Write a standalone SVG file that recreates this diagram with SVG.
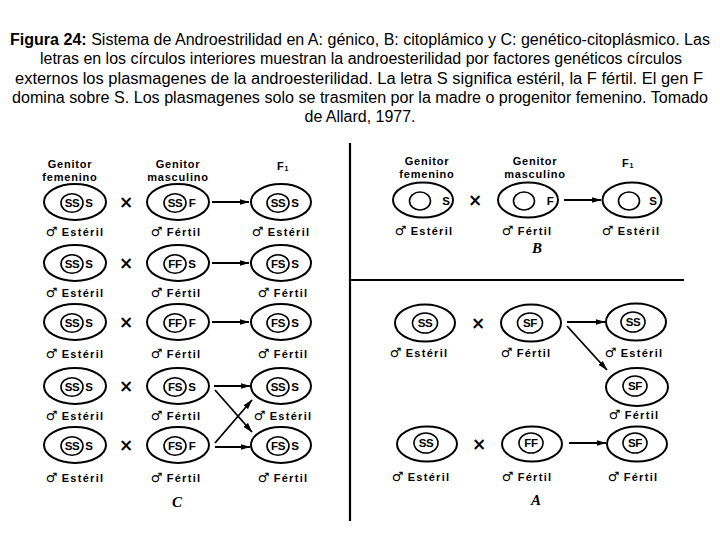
<svg xmlns="http://www.w3.org/2000/svg" width="720" height="540" viewBox="0 0 720 540">
<defs>
<style>
.cap{font-family:"Liberation Sans",Arial,sans-serif;font-size:16px;fill:#000;text-anchor:middle}
.hd{font-family:"Liberation Sans",Arial,sans-serif;font-weight:bold;font-size:11px;letter-spacing:0.8px;text-anchor:middle;fill:#000}
.lb{font-family:"Liberation Sans",Arial,sans-serif;font-weight:bold;font-size:11px;letter-spacing:1.3px;text-anchor:middle;fill:#000}
.sym{font-family:"DejaVu Sans",sans-serif;font-size:13px;font-weight:bold;letter-spacing:0}
.g{font-family:"Liberation Sans",Arial,sans-serif;font-weight:bold;font-size:11.5px;letter-spacing:-0.3px;text-anchor:middle;fill:#000}
.x{font-family:"DejaVu Sans",sans-serif;font-weight:bold;font-size:17px;text-anchor:middle;fill:#000}
.pl{font-family:"Liberation Serif","Times New Roman",serif;font-weight:bold;font-style:italic;font-size:15px;text-anchor:middle;fill:#000}
.o{fill:none;stroke:#000;stroke-width:2}
.i{fill:none;stroke:#000;stroke-width:1.6}
.conn line{stroke:#000;stroke-width:1.8;marker-end:url(#ah)}
.div{stroke:#000;stroke-width:2.2}
</style>
<marker id="ah" markerWidth="10" markerHeight="6" refX="9.5" refY="3" orient="auto" markerUnits="userSpaceOnUse">
<path d="M0,0 L10,3 L0,6 z" fill="#000"/>
</marker>
</defs>
<rect width="720" height="540" fill="#fff"/>

<g id="caption">
<text class="cap" x="360" y="45" textLength="700" lengthAdjust="spacingAndGlyphs"><tspan font-weight="bold">Figura 24:</tspan> Sistema de Androestrilidad en A: génico, B: citoplámico y C: genético-citoplásmico. Las</text>
<text class="cap" x="361" y="64" textLength="642" lengthAdjust="spacingAndGlyphs">letras en los círculos interiores muestran la androesterilidad por factores genéticos círculos</text>
<text class="cap" x="359" y="83.5" textLength="688" lengthAdjust="spacingAndGlyphs">externos los plasmagenes de la androesterilidad. La letra S significa estéril, la F fértil. El gen F</text>
<text class="cap" x="360" y="103" textLength="696" lengthAdjust="spacingAndGlyphs">domina sobre S. Los plasmagenes solo se trasmiten por la madre o progenitor femenino. Tomado</text>
<text class="cap" x="360" y="122" textLength="111" lengthAdjust="spacingAndGlyphs">de Allard, 1977.</text>
</g>

<g id="dividers">
<line class="div" x1="350" y1="143" x2="350" y2="521"/>
<line class="div" x1="350" y1="280" x2="684" y2="280"/>
</g>

<!-- Panel C headers -->
<g id="c-headers">
<text class="hd" x="70" y="168">Genitor</text>
<text class="hd" x="70" y="181">femenino</text>
<text class="hd" x="178" y="168">Genitor</text>
<text class="hd" x="178" y="181">masculino</text>
<text class="hd" x="283" y="170">F<tspan font-size="7" dy="1">1</tspan></text>
</g>

<!-- Panel C row 1 -->
<g id="c1-fem"><ellipse class="o" cx="75" cy="202" rx="31" ry="18"/><ellipse class="i" cx="72" cy="203" rx="11" ry="9.3"/><text class="g" x="72" y="207">SS</text><text class="g" x="89" y="207">S</text><text class="lb" x="75" y="236"><tspan class="sym">♂</tspan> Estéril</text></g>
<g id="c1-mas"><ellipse class="o" cx="178" cy="202" rx="31" ry="18"/><ellipse class="i" cx="175" cy="203" rx="11" ry="9.3"/><text class="g" x="175" y="207">SS</text><text class="g" x="192" y="207">F</text><text class="lb" x="176" y="236"><tspan class="sym">♂</tspan> Fértil</text></g>
<g id="c1-f1"><ellipse class="o" cx="281" cy="202" rx="30" ry="18"/><ellipse class="i" cx="278" cy="203" rx="11" ry="9.3"/><text class="g" x="278" y="207">SS</text><text class="g" x="295" y="207">S</text><text class="lb" x="281" y="236"><tspan class="sym">♂</tspan> Estéril</text></g>

<!-- Panel C row 2 -->
<g id="c2-fem"><ellipse class="o" cx="75" cy="263" rx="31" ry="18"/><ellipse class="i" cx="72" cy="264" rx="11" ry="9.3"/><text class="g" x="72" y="268">SS</text><text class="g" x="89" y="268">S</text><text class="lb" x="75" y="297"><tspan class="sym">♂</tspan> Estéril</text></g>
<g id="c2-mas"><ellipse class="o" cx="178" cy="263" rx="31" ry="18"/><ellipse class="i" cx="175" cy="264" rx="11" ry="9.3"/><text class="g" x="175" y="268">FF</text><text class="g" x="192" y="268">S</text><text class="lb" x="176" y="297"><tspan class="sym">♂</tspan> Fértil</text></g>
<g id="c2-f1"><ellipse class="o" cx="281" cy="263" rx="30" ry="18"/><ellipse class="i" cx="278" cy="264" rx="11" ry="9.3"/><text class="g" x="278" y="268">FS</text><text class="g" x="295" y="268">S</text><text class="lb" x="283" y="297"><tspan class="sym">♂</tspan> Fértil</text></g>

<!-- Panel C row 3 -->
<g id="c3-fem"><ellipse class="o" cx="75" cy="322" rx="31" ry="18"/><ellipse class="i" cx="72" cy="323" rx="11" ry="9.3"/><text class="g" x="72" y="327">SS</text><text class="g" x="89" y="327">S</text><text class="lb" x="75" y="358"><tspan class="sym">♂</tspan> Estéril</text></g>
<g id="c3-mas"><ellipse class="o" cx="178" cy="322" rx="31" ry="18"/><ellipse class="i" cx="175" cy="323" rx="11" ry="9.3"/><text class="g" x="175" y="327">FF</text><text class="g" x="192" y="327">F</text><text class="lb" x="176" y="358"><tspan class="sym">♂</tspan> Fértil</text></g>
<g id="c3-f1"><ellipse class="o" cx="281" cy="322" rx="30" ry="18"/><ellipse class="i" cx="278" cy="323" rx="11" ry="9.3"/><text class="g" x="278" y="327">FS</text><text class="g" x="295" y="327">S</text><text class="lb" x="283" y="358"><tspan class="sym">♂</tspan> Fértil</text></g>

<!-- Panel C row 4 -->
<g id="c4-fem"><ellipse class="o" cx="75" cy="386" rx="31" ry="18"/><ellipse class="i" cx="72" cy="387" rx="11" ry="9.3"/><text class="g" x="72" y="391">SS</text><text class="g" x="89" y="391">S</text><text class="lb" x="75" y="420"><tspan class="sym">♂</tspan> Estéril</text></g>
<g id="c4-mas"><ellipse class="o" cx="178" cy="386" rx="31" ry="18"/><ellipse class="i" cx="175" cy="387" rx="11" ry="9.3"/><text class="g" x="175" y="391">FS</text><text class="g" x="192" y="391">S</text><text class="lb" x="176" y="420"><tspan class="sym">♂</tspan> Fértil</text></g>
<g id="c4-f1"><ellipse class="o" cx="281" cy="386" rx="30" ry="18"/><ellipse class="i" cx="278" cy="387" rx="11" ry="9.3"/><text class="g" x="278" y="391">SS</text><text class="g" x="295" y="391">S</text><text class="lb" x="283" y="420"><tspan class="sym">♂</tspan> Estéril</text></g>

<!-- Panel C row 5 -->
<g id="c5-fem"><ellipse class="o" cx="75" cy="445" rx="31" ry="18"/><ellipse class="i" cx="72" cy="446" rx="11" ry="9.3"/><text class="g" x="72" y="450">SS</text><text class="g" x="89" y="450">S</text><text class="lb" x="75" y="482"><tspan class="sym">♂</tspan> Estéril</text></g>
<g id="c5-mas"><ellipse class="o" cx="178" cy="445" rx="31" ry="18"/><ellipse class="i" cx="175" cy="446" rx="11" ry="9.3"/><text class="g" x="175" y="450">FS</text><text class="g" x="192" y="450">F</text><text class="lb" x="176" y="482"><tspan class="sym">♂</tspan> Fértil</text></g>
<g id="c5-f1"><ellipse class="o" cx="281" cy="445" rx="30" ry="18"/><ellipse class="i" cx="278" cy="446" rx="11" ry="9.3"/><text class="g" x="278" y="450">FS</text><text class="g" x="295" y="450">S</text><text class="lb" x="283" y="482"><tspan class="sym">♂</tspan> Fértil</text></g>

<g id="c-crosses">
<text class="x" x="126" y="208">×</text>
<text class="x" x="126" y="269">×</text>
<text class="x" x="126" y="328">×</text>
<text class="x" x="126" y="392">×</text>
<text class="x" x="126" y="451">×</text>
</g>
<text class="pl" x="177" y="507">C</text>

<!-- Panel B -->
<g id="b-headers">
<text class="hd" x="427" y="165">Genitor</text>
<text class="hd" x="427" y="178">femenino</text>
<text class="hd" x="535" y="165">Genitor</text>
<text class="hd" x="535" y="178">masculino</text>
<text class="hd" x="628" y="167">F<tspan font-size="7" dy="1">1</tspan></text>
</g>
<g id="b-fem"><ellipse class="o" cx="423" cy="200" rx="30" ry="17.5"/><ellipse class="i" cx="420" cy="201" rx="10.5" ry="9"/><text class="g" x="446" y="205">S</text><text class="lb" x="424" y="235"><tspan class="sym">♂</tspan> Estéril</text></g>
<g id="b-mas"><ellipse class="o" cx="528" cy="200" rx="30" ry="17.5"/><ellipse class="i" cx="524" cy="201" rx="10.5" ry="9"/><text class="g" x="550" y="205">F</text><text class="lb" x="527" y="235"><tspan class="sym">♂</tspan> Fértil</text></g>
<g id="b-f1"><ellipse class="o" cx="632" cy="200" rx="29.5" ry="17.5"/><ellipse class="i" cx="629" cy="201" rx="10.5" ry="9"/><text class="g" x="653" y="205">S</text><text class="lb" x="631" y="235"><tspan class="sym">♂</tspan> Estéril</text></g>
<text class="x" x="475" y="206">×</text>
<text class="pl" x="537" y="253">B</text>

<!-- Panel A -->
<g id="a1-fem"><ellipse class="o" cx="425" cy="323" rx="30" ry="18.5"/><ellipse class="i" cx="425" cy="323" rx="12.5" ry="10"/><text class="g" x="425" y="327">SS</text><text class="lb" x="419" y="357"><tspan class="sym">♂</tspan>  Estéril</text></g>
<g id="a1-mas"><ellipse class="o" cx="531" cy="323" rx="30" ry="18.5"/><ellipse class="i" cx="530" cy="323" rx="12.5" ry="10"/><text class="g" x="530" y="327">SF</text><text class="lb" x="526" y="357"><tspan class="sym">♂</tspan>  Fértil</text></g>
<g id="a1-f1"><ellipse class="o" cx="636" cy="322" rx="30" ry="18.5"/><ellipse class="i" cx="633" cy="322" rx="12" ry="10"/><text class="g" x="633" y="326">SS</text><text class="lb" x="634" y="357"><tspan class="sym">♂</tspan>  Estéril</text></g>
<g id="a2-f1"><ellipse class="o" cx="637" cy="387" rx="31" ry="19"/><ellipse class="i" cx="635" cy="386" rx="12" ry="10"/><text class="g" x="635" y="390">SF</text><text class="lb" x="634" y="419"><tspan class="sym">♂</tspan>  Fértil</text></g>
<g id="a3-fem"><ellipse class="o" cx="427" cy="444" rx="30" ry="17.5"/><ellipse class="i" cx="426" cy="443" rx="12" ry="10"/><text class="g" x="426" y="447">SS</text><text class="lb" x="421" y="481"><tspan class="sym">♂</tspan>  Estéril</text></g>
<g id="a3-mas"><ellipse class="o" cx="532" cy="444" rx="30" ry="17.5"/><ellipse class="i" cx="531" cy="443" rx="12" ry="10"/><text class="g" x="531" y="447">FF</text><text class="lb" x="527" y="481"><tspan class="sym">♂</tspan>  Fértil</text></g>
<g id="a3-f1"><ellipse class="o" cx="637" cy="444" rx="30" ry="17.5"/><ellipse class="i" cx="635" cy="443" rx="12" ry="10"/><text class="g" x="635" y="447">SF</text><text class="lb" x="633" y="481"><tspan class="sym">♂</tspan>  Fértil</text></g>
<text class="x" x="478" y="329">×</text>
<text class="x" x="479" y="450">×</text>
<text class="pl" x="536" y="505">A</text>

<g id="connectors" class="conn">
<line x1="212" y1="202" x2="249" y2="202"/>
<line x1="212" y1="263" x2="249" y2="263"/>
<line x1="212" y1="322" x2="249" y2="322"/>
<line x1="214" y1="386" x2="250" y2="386"/>
<line x1="215" y1="390" x2="252" y2="432"/>
<line x1="215" y1="443" x2="252" y2="400"/>
<line x1="215" y1="447" x2="250" y2="447"/>
<line x1="564" y1="200" x2="601" y2="200"/>
<line x1="567" y1="322" x2="605" y2="322"/>
<line x1="567" y1="326" x2="607" y2="370"/>
<line x1="569" y1="443" x2="606" y2="443"/>
</g>
</svg>
